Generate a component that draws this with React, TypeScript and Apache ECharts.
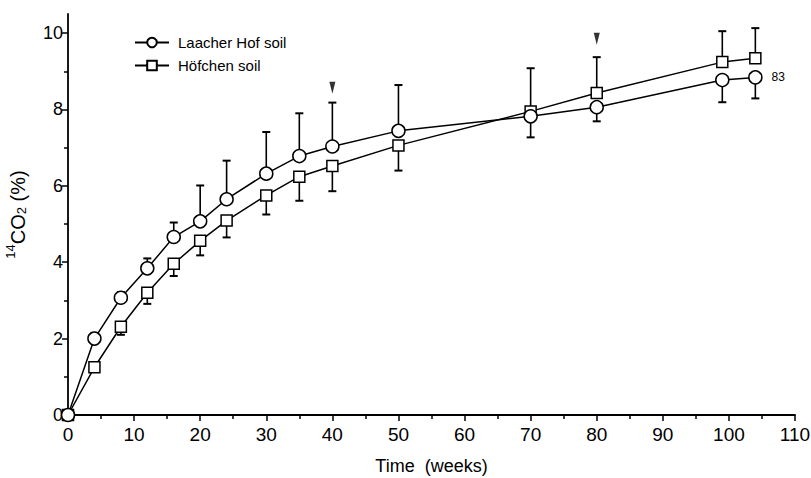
import React, { useEffect, useRef } from "react";
import * as echarts from "echarts";

const weeks = [0, 4, 8, 12, 16, 20, 24, 30, 35, 40, 50, 70, 80, 99, 104];
const laacher = [0, 2.0, 3.07, 3.84, 4.66, 5.07, 5.65, 6.32, 6.78, 7.03, 7.44, 7.82, 8.06, 8.77, 8.84];
const hofchen = [0, 1.25, 2.31, 3.2, 3.96, 4.56, 5.09, 5.75, 6.24, 6.52, 7.06, 7.95, 8.43, 9.24, 9.34];
// end point of each error bar (the bar runs from the mean to this value)
const laacherErrEnd = [0, 2.15, 3.22, 4.1, 5.04, 6.01, 6.66, 7.41, 7.9, 8.18, 8.64, 7.27, 7.69, 8.19, 8.29];
const hofchenErrEnd = [0, 1.2, 2.1, 2.91, 3.64, 4.18, 4.65, 5.25, 5.61, 5.86, 6.4, 9.08, 9.37, 10.05, 10.13];

const arrowWeeks = [40, 80];
const arrowValues = [8.57, 9.85];

const yMajorTicks = [0, 2, 4, 6, 8, 10];
const yMinorTicks = [1, 3, 5, 7, 9];
const endLabel = "83";

const FONT = "'Liberation Sans', Arial, sans-serif";

export default function App() {
  const ref = useRef<HTMLDivElement>(null);
  useEffect(() => {
    if (!ref.current) return;
    const chart = echarts.init(ref.current, null, { renderer: "svg" });

    const errRender = (params: any, api: any) => {
      const x = api.value(0);
      const v = api.value(1);
      const e = api.value(2);
      if (v === e) return null;
      const p0 = api.coord([x, v]);
      const p1 = api.coord([x, e]);
      return {
        type: "group",
        children: [
          { type: "line", shape: { x1: p0[0], y1: p0[1], x2: p1[0], y2: p1[1] }, style: { stroke: "#000", lineWidth: 1.6 } },
          { type: "line", shape: { x1: p1[0] - 4, y1: p1[1], x2: p1[0] + 4, y2: p1[1] }, style: { stroke: "#000", lineWidth: 2 } },
        ],
      };
    };

    const lineCommon = {
      type: "line",
      xAxisIndex: 0,
      yAxisIndex: 0,
      z: 3,
      lineStyle: { color: "#000", width: 1.5 },
      itemStyle: { color: "#fff", borderColor: "#000", borderWidth: 1.5 },
      emphasis: { disabled: true },
    };

    const laacherData = weeks.map((w, i) =>
      i === weeks.length - 1
        ? {
            value: [w, laacher[i]],
            label: { show: true, formatter: endLabel, position: "right", distance: 9, color: "#000", fontSize: 12, fontFamily: FONT },
          }
        : [w, laacher[i]]
    );

    chart.setOption({
      animation: false,
      backgroundColor: "#fff",
      grid: { left: 68, right: 16, top: 14, bottom: 63, containLabel: false, outerBoundsMode: "none" },
      legend: {
        orient: "vertical",
        left: 129,
        top: 30,
        itemWidth: 34,
        itemHeight: 12,
        itemGap: 8,
        textStyle: { color: "#000", fontSize: 15, fontFamily: FONT, padding: [0, 0, 0, 4] },
        data: ["Laacher Hof soil", "Höfchen soil"],
      },
      xAxis: {
        type: "value",
        min: 0,
        max: 110,
        interval: 10,
        name: "Time  (weeks)",
        nameLocation: "middle",
        nameGap: 42,
        nameTextStyle: { color: "#000", fontSize: 18, fontFamily: FONT },
        axisLine: { lineStyle: { color: "#000", width: 1.8 } },
        axisTick: { show: true, inside: false, length: 6, lineStyle: { color: "#000", width: 1.5 } },
        minorTick: { show: true, splitNumber: 2, length: 4, lineStyle: { color: "#000", width: 1.5 } },
        axisLabel: { color: "#000", fontSize: 19, fontFamily: FONT, margin: 10 },
        splitLine: { show: false },
        minorSplitLine: { show: false },
      },
      yAxis: [
        {
          type: "value",
          min: 0,
          max: 10.5,
          interval: 2,
          name: "{sup|14}{main|CO}{sub|2}{main| (%)}",
          nameLocation: "middle",
          nameRotate: 90,
          nameGap: 40,
          nameTextStyle: {
            color: "#000",
            fontSize: 19,
            fontFamily: FONT,
            rich: {
              main: { fontSize: 20, fontFamily: FONT, color: "#000", lineHeight: 24, verticalAlign: "bottom" },
              sup: { fontSize: 13, fontFamily: FONT, color: "#000", lineHeight: 13, verticalAlign: "top" },
              sub: { fontSize: 13, fontFamily: FONT, color: "#000", lineHeight: 13, verticalAlign: "bottom" },
            },
          },
          axisLine: { show: true, lineStyle: { color: "#000", width: 1.8 } },
          axisTick: { show: true, inside: false, length: 6, customValues: yMajorTicks, lineStyle: { color: "#000", width: 1.5 } },
          axisLabel: { color: "#000", fontSize: 18, fontFamily: FONT, margin: 5, customValues: yMajorTicks },
          splitLine: { show: false },
        },
        {
          type: "value",
          min: 0,
          max: 10.5,
          position: "left",
          axisLine: { show: false },
          axisTick: { show: true, inside: false, length: 4, customValues: yMinorTicks, lineStyle: { color: "#000", width: 1.5 } },
          axisLabel: { show: false },
          splitLine: { show: false },
        },
      ],
      series: [
        {
          type: "custom",
          name: "errL",
          z: 1,
          renderItem: errRender,
          encode: { x: 0, y: [1, 2] },
          data: weeks.map((w, i) => [w, laacher[i], laacherErrEnd[i]]),
          silent: true,
        },
        {
          type: "custom",
          name: "errH",
          z: 1,
          renderItem: errRender,
          encode: { x: 0, y: [1, 2] },
          data: weeks.map((w, i) => [w, hofchen[i], hofchenErrEnd[i]]),
          silent: true,
        },
        {
          ...lineCommon,
          name: "Höfchen soil",
          symbol: "rect",
          symbolSize: 11,
          data: weeks.map((w, i) => [w, hofchen[i]]),
        },
        {
          ...lineCommon,
          name: "Laacher Hof soil",
          symbol: "circle",
          symbolSize: 13,
          data: laacherData,
        },
        {
          type: "scatter",
          name: "arrows",
          symbol: "triangle",
          symbolRotate: 180,
          symbolSize: [6, 12],
          itemStyle: { color: "#000" },
          z: 4,
          silent: true,
          data: arrowWeeks.map((w, i) => [w, arrowValues[i]]),
        },
      ],
    });
    return () => chart.dispose();
  }, []);
  return <div ref={ref} style={{ position: "fixed", left: 0, top: 0, width: 811, height: 478 }} />;
}
